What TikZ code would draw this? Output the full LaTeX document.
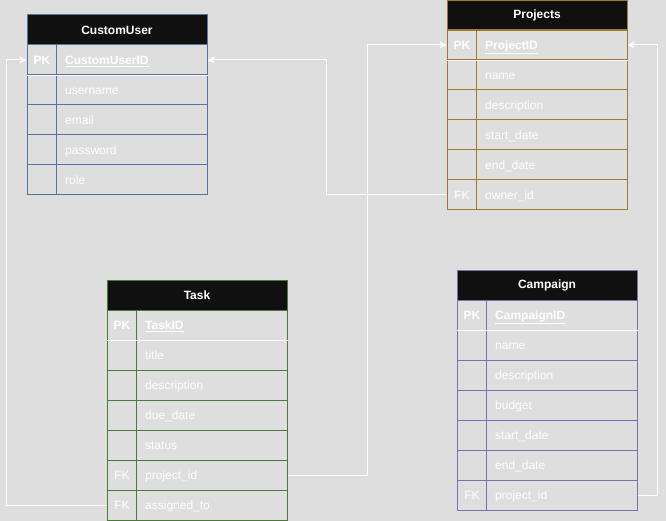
\documentclass[tikz,border=0pt]{standalone}
\usepackage{fontspec}
\setmainfont{Liberation Sans}
\usetikzlibrary{arrows.meta}
\definecolor{bgc}{HTML}{DEDEDE}
\definecolor{cublue}{HTML}{56739E}
\definecolor{prgold}{HTML}{A07A2C}
\definecolor{tkgreen}{HTML}{4C7A3A}
\definecolor{cppurple}{HTML}{7A70AE}
\definecolor{hdrfill}{HTML}{101010}
\tikzset{
  hdr/.style={rectangle, fill=hdrfill, line width=1pt, minimum width=180pt, minimum height=30pt, inner sep=0pt, text=white, font=\fontsize{12}{14}\selectfont\bfseries},
  rowbox/.style={rectangle, line width=1pt, minimum width=180pt, minimum height=30pt, inner sep=0pt},
  keytxt/.style={anchor=base, inner sep=0pt, text=white, font=\fontsize{12}{14}\selectfont},
  fldtxt/.style={anchor=base west, inner sep=0pt, text=white, font=\fontsize{12}{14}\selectfont},
  conn/.style={draw=white, line width=1pt, -{Stealth[length=7pt,width=7pt,inset=2pt]}},
  pkline/.style={draw=white, line width=1pt}
}
% #1 id, #2 x, #3 ytop, #4 colour, #5 key, #6 field
\newcommand{\errow}[6]{%
  \node[rowbox, draw=#4] (#1) at ({#2+90},{#3+15}) {};
  \draw[draw=#4, line width=1pt] ([xshift=30pt]#1.north west) -- ([xshift=30pt]#1.south west);
  \node[keytxt] (#1-k) at ({#2+15},{#3+19.3}) {#5};
  \node[fldtxt] (#1-f) at ({#2+38},{#3+19.3}) {#6};
}
% #1 id, #2 x, #3 ytop, #4 colour, #5 title
\newcommand{\erhead}[5]{%
  \node[hdr, draw=#4] (#1) at ({#2+90},{#3+15}) {#5};
}
\newcommand{\pkf}[1]{\textbf{\underline{#1}}}
\begin{document}
\begin{tikzpicture}[x=1pt, y=-1pt]
\fill[bgc] (0,0) rectangle (666,521);
\useasboundingbox (0,0) rectangle (666,521);

% CustomUser
\erhead{cuh}{27}{15}{cublue}{CustomUser}
\errow{cu1}{27}{45}{cublue}{\textbf{PK}}{\pkf{CustomUserID}}
\errow{cu2}{27}{75}{cublue}{}{username}
\errow{cu3}{27}{105}{cublue}{}{email}
\errow{cu4}{27}{135}{cublue}{}{password}
\errow{cu5}{27}{165}{cublue}{}{role}

% Projects
\erhead{prh}{447}{0.5}{prgold}{Projects}
\errow{pr1}{447}{30}{prgold}{\textbf{PK}}{\pkf{ProjectID}}
\errow{pr2}{447}{60}{prgold}{}{name}
\errow{pr3}{447}{90}{prgold}{}{description}
\errow{pr4}{447}{120}{prgold}{}{start\_date}
\errow{pr5}{447}{150}{prgold}{}{end\_date}
\errow{pr6}{447}{180}{prgold}{FK}{owner\_id}

% Task
\erhead{tkh}{107}{280}{tkgreen}{Task}
\errow{tk1}{107}{310}{tkgreen}{\textbf{PK}}{\pkf{TaskID}}
\errow{tk2}{107}{340}{tkgreen}{}{title}
\errow{tk3}{107}{370}{tkgreen}{}{description}
\errow{tk4}{107}{400}{tkgreen}{}{due\_date}
\errow{tk5}{107}{430}{tkgreen}{}{status}
\errow{tk6}{107}{460}{tkgreen}{FK}{project\_id}
\errow{tk7}{107}{490}{tkgreen}{FK}{assigned\_to}

% Campaign
\erhead{cph}{457}{270}{cppurple}{Campaign}
\errow{cp1}{457}{300}{cppurple}{\textbf{PK}}{\pkf{CampaignID}}
\errow{cp2}{457}{330}{cppurple}{}{name}
\errow{cp3}{457}{360}{cppurple}{}{description}
\errow{cp4}{457}{390}{cppurple}{}{budget}
\errow{cp5}{457}{420}{cppurple}{}{start\_date}
\errow{cp6}{457}{450}{cppurple}{}{end\_date}
\errow{cp7}{457}{480}{cppurple}{FK}{project\_id}

% white separator under primary-key rows
\draw[pkline] (cu1.south west) -- (cu1.south east);
\draw[pkline] (pr1.south west) -- (pr1.south east);
\draw[pkline] (tk1.south west) -- (tk1.south east);
\draw[pkline] (cp1.south west) -- (cp1.south east);

% connectors
\draw[conn] (pr6.west) -- ++(-120,0) |- (cu1.east);
\draw[conn] (tk6.east) -- ++(80,0) |- (pr1.west);
\draw[conn] (tk7.west) -- ++(-100,0) |- (cu1.west);
\draw[conn] (cp7.east) -- ++(20,0) |- (pr1.east);
\end{tikzpicture}
\end{document}
